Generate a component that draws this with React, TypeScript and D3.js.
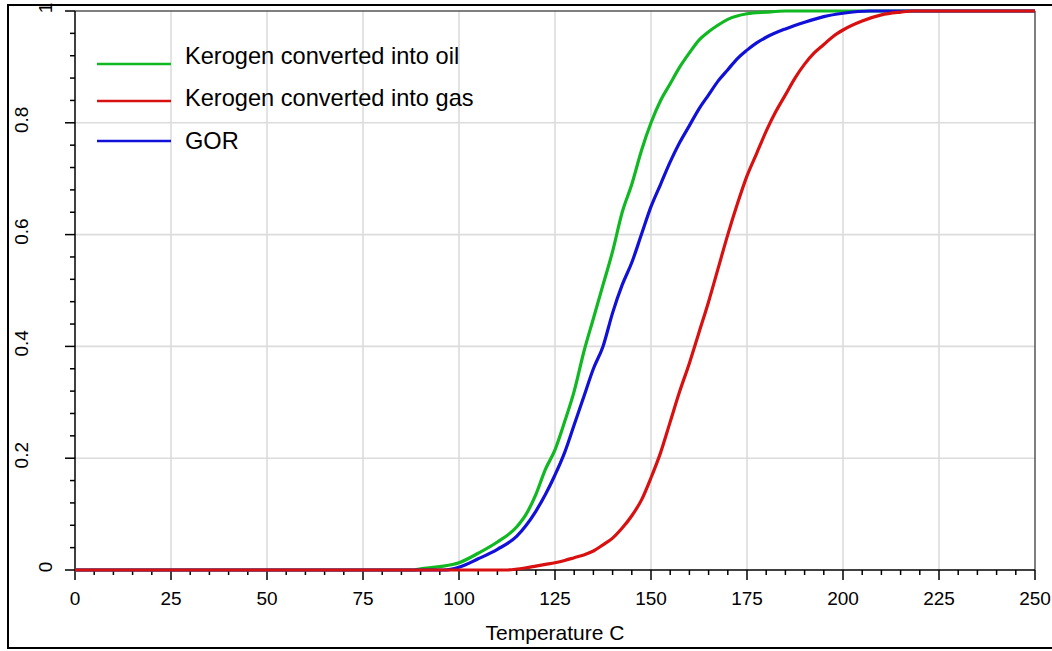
import React from "react";
import * as d3 from "d3";

// ---- data ----
const oilTemps = [0, 88, 90, 95, 100, 105, 110, 115, 117.5, 120, 122.5, 125, 127.5, 130, 132.5, 135, 137.5, 140, 142.5, 145, 147.5, 150, 152.5, 155, 157.5, 160, 162.5, 165, 167.5, 170, 175, 180, 185, 250];
const oilValues = [0, 0, 0.002, 0.006, 0.013, 0.03, 0.05, 0.077, 0.1, 0.135, 0.18, 0.215, 0.265, 0.32, 0.39, 0.45, 0.51, 0.57, 0.64, 0.69, 0.75, 0.8, 0.84, 0.87, 0.9, 0.925, 0.948, 0.963, 0.975, 0.985, 0.995, 0.998, 1, 1];

const gorTemps = [0, 96, 100, 105, 110, 115, 117.5, 120, 122.5, 125, 127.5, 130, 132.5, 135, 137.5, 140, 142.5, 145, 147.5, 150, 152.5, 155, 157.5, 160, 162.5, 165, 167.5, 170, 172.5, 175, 177.5, 180, 185, 190, 195, 200, 207, 250];
const gorValues = [0, 0, 0.005, 0.02, 0.037, 0.06, 0.08, 0.105, 0.135, 0.17, 0.21, 0.26, 0.31, 0.36, 0.4, 0.46, 0.51, 0.55, 0.6, 0.65, 0.69, 0.73, 0.765, 0.795, 0.825, 0.85, 0.875, 0.895, 0.915, 0.93, 0.943, 0.953, 0.968, 0.98, 0.99, 0.996, 1, 1];

const gasTemps = [0, 112, 117.5, 120, 122.5, 125, 127.5, 130, 132.5, 135, 137.5, 140, 142.5, 145, 147.5, 150, 152.5, 155, 157.5, 160, 162.5, 165, 167.5, 170, 172.5, 175, 177.5, 180, 182.5, 185, 187.5, 190, 192.5, 195, 197.5, 200, 205, 210, 215, 218, 250];
const gasValues = [0, 0, 0.004, 0.007, 0.01, 0.013, 0.017, 0.022, 0.027, 0.034, 0.045, 0.057, 0.075, 0.097, 0.125, 0.165, 0.21, 0.265, 0.32, 0.37, 0.425, 0.48, 0.54, 0.6, 0.655, 0.705, 0.745, 0.785, 0.82, 0.85, 0.88, 0.905, 0.925, 0.94, 0.955, 0.966, 0.982, 0.993, 0.998, 1, 1];

const xTickValues = [0, 25, 50, 75, 100, 125, 150, 175, 200, 225, 250];
const yTickValues = [0, 0.2, 0.4, 0.6, 0.8, 1];
const yTickLabels = ["0", "0.2", "0.4", "0.6", "0.8", "1"];

const seriesNames = ["Kerogen converted into oil", "Kerogen converted into gas", "GOR"];
const seriesColors = ["#10b822", "#d81010", "#1010d8"];

const xTitle = "Temperature C";

// ---- layout ----
const W = 1052;
const H = 651;
const PL = 75, PR = 1035, PT = 11, PB = 570;
const FONT = "'Liberation Sans', Arial, sans-serif";
const legendLineY = [64, 101, 141];
const legendTextY = [64, 106, 149];

export default function App() {
  const x = d3.scaleLinear().domain([0, 250]).range([PL, PR]);
  const y = d3.scaleLinear().domain([0, 1]).range([PB, PT]);

  const line = d3
    .line<[number, number]>()
    .x((d) => x(d[0]))
    .y((d) => y(d[1]))
    .curve(d3.curveMonotoneX);

  const series = [
    { name: seriesNames[0], color: seriesColors[0], pts: oilTemps.map((t, i) => [t, oilValues[i]] as [number, number]) },
    { name: seriesNames[2], color: seriesColors[2], pts: gorTemps.map((t, i) => [t, gorValues[i]] as [number, number]) },
    { name: seriesNames[1], color: seriesColors[1], pts: gasTemps.map((t, i) => [t, gasValues[i]] as [number, number]) },
  ];

  const xMinor = d3.range(0, 251, 5).filter((v) => v % 25 !== 0);
  const yMinor = d3.range(0, 25).map((i) => i * 0.04).filter((v, i) => i % 5 !== 0);

  return (
    <svg
      width={W}
      height={H}
      style={{ position: "absolute", left: 0, top: 0, background: "#fff" }}
      fontFamily={FONT}
    >
      <rect x={0} y={0} width={W} height={H} fill="#fff" />
      {/* grid */}
      {xTickValues.slice(1, -1).map((v) => (
        <line key={"gx" + v} x1={x(v)} x2={x(v)} y1={PT} y2={PB} stroke="#dcdcdc" strokeWidth={1.6} />
      ))}
      {yTickValues.slice(1, -1).map((v) => (
        <line key={"gy" + v} x1={PL} x2={PR} y1={y(v)} y2={y(v)} stroke="#dcdcdc" strokeWidth={1.6} />
      ))}

      {/* plot frame (top/right gray) */}
      <line x1={PL} x2={PR} y1={PT} y2={PT} stroke="#555" strokeWidth={1.5} />
      <line x1={PR} x2={PR} y1={PT} y2={PB} stroke="#555" strokeWidth={1.5} />

      {/* axes */}
      <line x1={PL} x2={PL} y1={PT} y2={PB} stroke="#000" strokeWidth={1.5} />
      <line x1={PL} x2={PR} y1={PB} y2={PB} stroke="#000" strokeWidth={1.5} />
      {xTickValues.map((v) => (
        <line key={"xt" + v} x1={x(v)} x2={x(v)} y1={PB} y2={PB + 10} stroke="#000" strokeWidth={1.5} />
      ))}
      {xMinor.map((v) => (
        <line key={"xm" + v} x1={x(v)} x2={x(v)} y1={PB} y2={PB + 5} stroke="#000" strokeWidth={1.5} />
      ))}
      {yTickValues.map((v) => (
        <line key={"yt" + v} x1={PL - 10} x2={PL} y1={y(v)} y2={y(v)} stroke="#000" strokeWidth={1.5} />
      ))}
      {yMinor.map((v) => (
        <line key={"ym" + v} x1={PL - 5} x2={PL} y1={y(v)} y2={y(v)} stroke="#000" strokeWidth={1.5} />
      ))}

      {/* tick labels */}
      {xTickValues.map((v) => (
        <text key={"xl" + v} x={x(v)} y={605} textAnchor="middle" fontSize={19} fill="#000">
          {String(v)}
        </text>
      ))}
      {yTickValues.map((v, i) => {
        const lab = yTickLabels[i];
        const bx = 52 - (lab.length - 1) * 12;
        const cy = y(v) - 3;
        return (
          <text
            key={"yl" + v}
            transform={`translate(${bx},${cy}) rotate(-90)`}
            textAnchor="middle"
            fontSize={19}
            fill="#000"
          >
            {lab}
          </text>
        );
      })}

      {/* axis title */}
      <text x={(PL + PR) / 2} y={640} textAnchor="middle" fontSize={21} fill="#000">
        {xTitle}
      </text>

      {/* series */}
      {series.map((s) => (
        <path key={s.name} d={line(s.pts) || ""} fill="none" stroke={s.color} strokeWidth={3.2} strokeLinejoin="round" />
      ))}

      {/* legend */}
      {seriesNames.map((n, i) => (
        <g key={"lg" + n}>
          <line x1={97} x2={171} y1={legendLineY[i]} y2={legendLineY[i]} stroke={seriesColors[i]} strokeWidth={2.5} />
          <text x={185} y={legendTextY[i]} fontSize={23.6} fill="#000">
            {n}
          </text>
        </g>
      ))}

      {/* outer frame */}
      <rect x={8} y={5} width={W + 20} height={643} fill="none" stroke="#000" strokeWidth={2} />
    </svg>
  );
}
